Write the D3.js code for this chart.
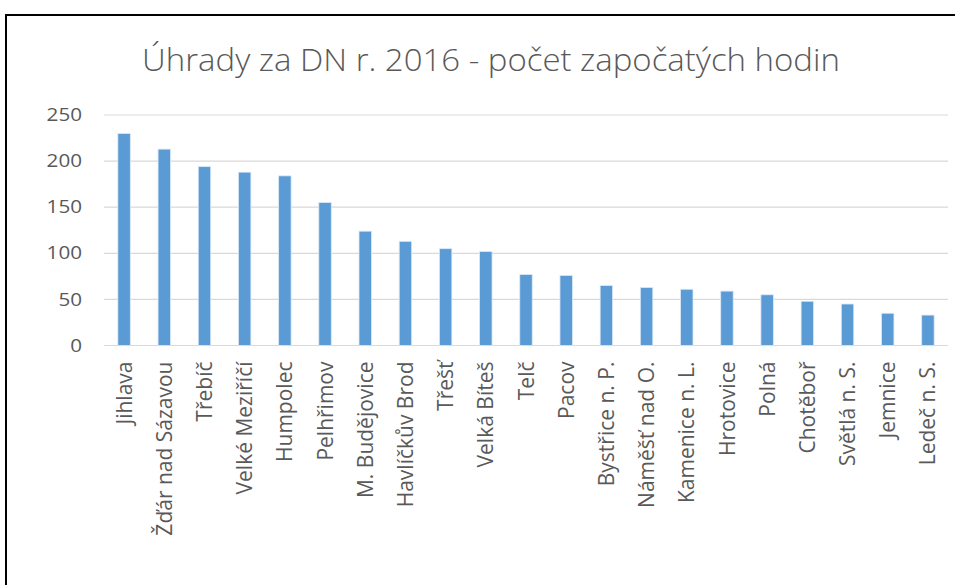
<!DOCTYPE html>
<html>
<head>
<meta charset="utf-8">
<script src="https://cdn.jsdelivr.net/npm/d3@7"></script>
<style>
  html, body { margin: 0; padding: 0; background: #fff; }
  svg { display: block; }
</style>
</head>
<body>
<svg id="chart" width="955" height="585"></svg>
<script>
// Payments for home visits in 2016 – number of started hours per town
const towns = ["Jihlava", "Žďár nad Sázavou", "Třebíč", "Velké Meziříčí", "Humpolec",
  "Pelhřimov", "M. Budějovice", "Havlíčkův Brod", "Třešť", "Velká Bíteš", "Telč",
  "Pacov", "Bystřice n. P.", "Náměšť nad O.", "Kamenice n. L.", "Hrotovice", "Polná",
  "Chotěboř", "Světlá n. S.", "Jemnice", "Ledeč n. S."];
const hours = [230, 213, 194, 188, 184, 155, 124, 113, 105, 102, 77,
  76, 65, 63, 61, 59, 55, 48, 45, 35, 33];
const yTicks = [0, 50, 100, 150, 200, 250];
const title = "Úhrady za DN r. 2016 - počet započatých hodin";

const svg = d3.select("#chart");
const FONT = "'Open Sans', sans-serif";
const TEXT = "#595959";

// frame
svg.append("rect")
  .attr("x", 6).attr("y", 15)
  .attr("width", 960).attr("height", 600)
  .attr("fill", "#fff").attr("stroke", "#000").attr("stroke-width", 2);

const plot = { left: 104, right: 948, top: 115, bottom: 345.5 };

const x = d3.scaleBand().domain(towns)
  .range([plot.left, plot.right]).paddingInner(0.69).paddingOuter(0.345);
const y = d3.scaleLinear().domain([0, 250]).range([plot.bottom, plot.top]);

// title, widened slightly to the chart's title width
const titleX = 491, titleW = 698;
const t = svg.append("text")
  .attr("text-anchor", "middle")
  .attr("font-family", FONT)
  .attr("font-weight", 300)
  .attr("font-size", 31)
  .attr("fill", TEXT)
  .text(title);
const tw = t.node().getComputedTextLength();
t.attr("transform", `translate(${titleX},71) scale(${titleW / tw},1)`);

// gridlines
svg.append("g")
  .selectAll("line").data(yTicks).join("line")
  .attr("x1", plot.left).attr("x2", plot.right)
  .attr("y1", d => y(d)).attr("y2", d => y(d))
  .attr("stroke", "#d9d9d9").attr("stroke-width", 1.2);

// y axis labels
const yAxis = d3.axisLeft(y).tickValues(yTicks).tickSize(0).tickPadding(0);
const yg = svg.append("g").attr("transform", `translate(${plot.left - 22},0)`).call(yAxis);
yg.select(".domain").remove();
yg.selectAll("text")
  .attr("font-family", FONT)
  .attr("font-size", 17.5)
  .attr("fill", TEXT)
  .attr("transform", "scale(1.18,1)");

// bars
svg.append("g")
  .selectAll("rect").data(hours).join("rect")
  .attr("x", (d, i) => x(towns[i]))
  .attr("y", d => y(d))
  .attr("width", x.bandwidth())
  .attr("height", d => y(0) - y(d))
  .attr("fill", "#5b9bd5")
  .attr("stroke", "#dbe9f6").attr("stroke-width", 0.8);

// x axis labels, rotated
const xAxis = d3.axisBottom(x).tickSize(0).tickPadding(0);
const xg = svg.append("g").attr("transform", `translate(0,${plot.bottom})`).call(xAxis);
xg.select(".domain").remove();
xg.selectAll("text")
  .attr("font-family", FONT)
  .attr("font-size", 21)
  .attr("fill", TEXT)
  .attr("text-anchor", "end")
  .attr("dy", "0.36em")
  .attr("transform", "translate(0,16) rotate(-90)");
</script>
</body>
</html>
